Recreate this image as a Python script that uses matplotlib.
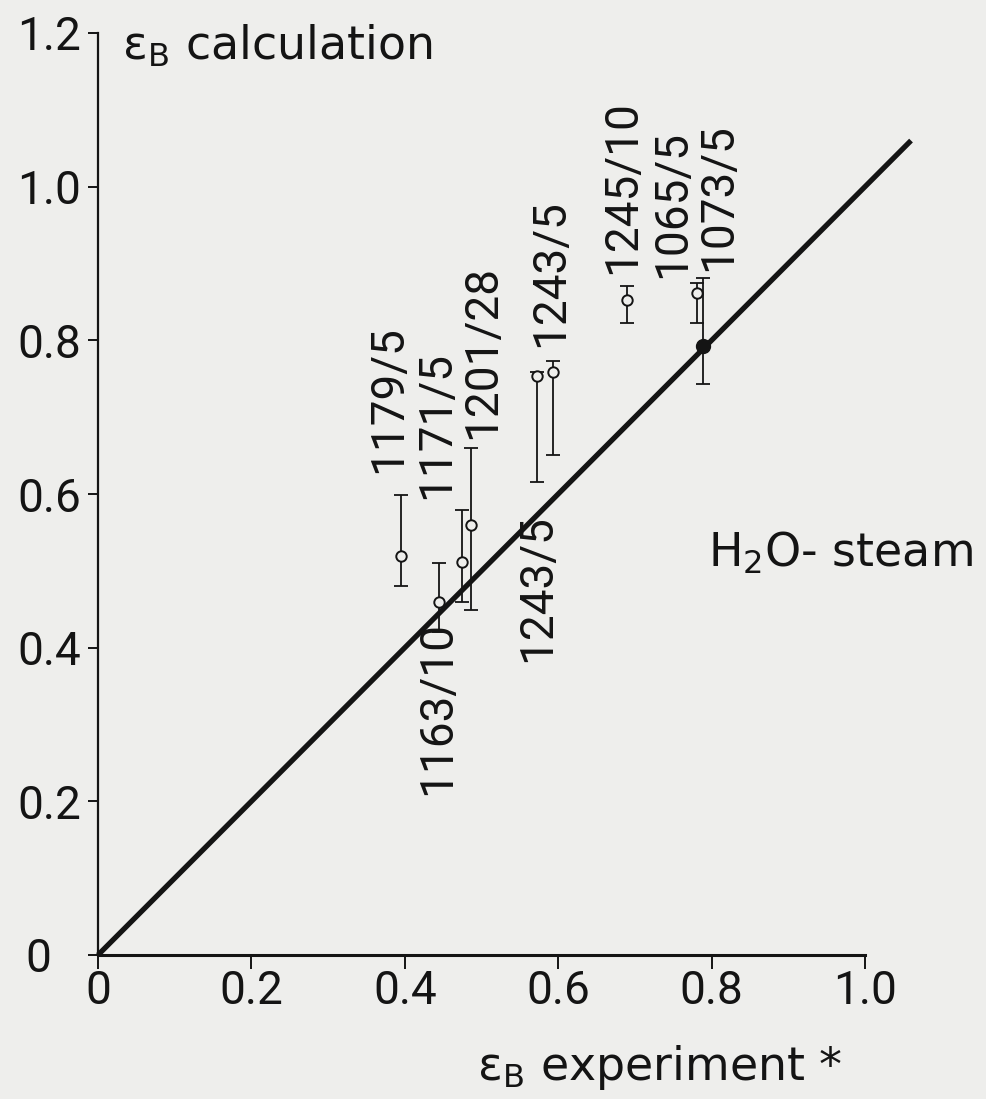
import numpy as np
import matplotlib
matplotlib.use('Agg')
import matplotlib.pyplot as plt
import matplotlib.transforms as mtransforms

plt.rcParams['mathtext.fontset'] = 'dejavusans'
plt.rcParams['font.family'] = ['DejaVu Sans']

# run labels (test / time) and values
labels = ['1179/5', '1163/10', '1171/5', '1201/28', '1243/5', '1243/5',
          '1245/10', '1065/5', '1073/5']
eps_exp = [0.395, 0.445, 0.474, 0.486, 0.572, 0.593, 0.690, 0.781, 0.789]
eps_calc = [0.519, 0.460, 0.512, 0.560, 0.753, 0.759, 0.853, 0.862, 0.792]
calc_low = [0.480, 0.421, 0.460, 0.449, 0.616, 0.651, 0.822, 0.822, 0.743]
calc_high = [0.599, 0.510, 0.579, 0.660, 0.759, 0.773, 0.871, 0.875, 0.881]

# where each rotated run label sits
label_x = [0.378, 0.442, 0.441, 0.501, 0.589, 0.572, 0.683, 0.748, 0.808]
label_y = [0.723, 0.322, 0.690, 0.785, 0.887, 0.478, 0.999, 0.977, 0.986]

xticks = [0, 0.2, 0.4, 0.6, 0.8, 1.0]
xticklabels = ['0', '0.2', '0.4', '0.6', '0.8', '1.0']
yticks = [0, 0.2, 0.4, 0.6, 0.8, 1.0, 1.2]
yticklabels = ['0', '0.2', '0.4', '0.6', '0.8', '1.0', '1.2']

bg = '#eeeeec'
ink = '#141414'
num_font = 'Roboto'

fig = plt.figure(figsize=(9.87, 10.99), dpi=100, facecolor=bg)
ax = fig.add_axes([98 / 987, 1 - 955 / 1099, 767 / 987, 922 / 1099])
ax.set_facecolor(bg)
ax.set_xlim(0, 1.0)
ax.set_ylim(0, 1.2)

for side in ['top', 'right']:
    ax.spines[side].set_visible(False)
ax.spines['left'].set_linewidth(1.6)
ax.spines['bottom'].set_linewidth(2.2)
for side in ['left', 'bottom']:
    ax.spines[side].set_color(ink)

ax.set_xticks(xticks)
ax.set_xticklabels(xticklabels, fontfamily=num_font, fontsize=33)
ax.set_yticks(yticks)
ax.set_yticklabels(yticklabels, fontfamily=num_font, fontsize=33)
ax.tick_params(axis='x', length=10, width=1.4, pad=0, colors=ink)
ax.tick_params(axis='y', length=7, width=1.4, pad=5, colors=ink)

# the "0" on the y axis sits further out in the original drawing
zero_lab = ax.get_yticklabels()[0]
shift = mtransforms.ScaledTranslation(-22 / 72, 0, fig.dpi_scale_trans)
zero_lab.set_transform(zero_lab.get_transform() + shift)

# line of perfect agreement
lim = np.array([0, 1.06])
ax.plot(lim, lim, color=ink, lw=3.8, clip_on=False, solid_capstyle='butt')

x = np.array(eps_exp)
y = np.array(eps_calc)
err = [y - np.array(calc_low), np.array(calc_high) - y]
ax.errorbar(x, y, yerr=err, fmt='none', ecolor=ink, elinewidth=1.3,
            capsize=5, capthick=1.3, clip_on=False)
ax.plot(x[:-1], y[:-1], 'o', ms=7.5, mfc=bg, mec=ink, mew=1.4, clip_on=False)
ax.plot(x[-1:], y[-1:], 'o', ms=10, color=ink, clip_on=False)

for lab, lx, ly in zip(labels, label_x, label_y):
    ax.text(lx, ly, lab, rotation=90, ha='center', va='center',
            fontfamily=num_font, fontsize=33, color=ink)

ax.text(0.031, 1.165, 'ε$_\\mathrm{B}$ calculation', fontsize=33,
        color=ink, ha='left', va='baseline', clip_on=False)
ax.text(0.494, -0.163, 'ε$_\\mathrm{B}$ experiment *', fontsize=33,
        color=ink, ha='left', va='baseline', clip_on=False)
ax.text(0.795, 0.505, 'H$_2$O- steam', fontsize=33, color=ink,
        ha='left', va='baseline', clip_on=False)

fig.savefig('out.png', dpi=100, facecolor=bg)
